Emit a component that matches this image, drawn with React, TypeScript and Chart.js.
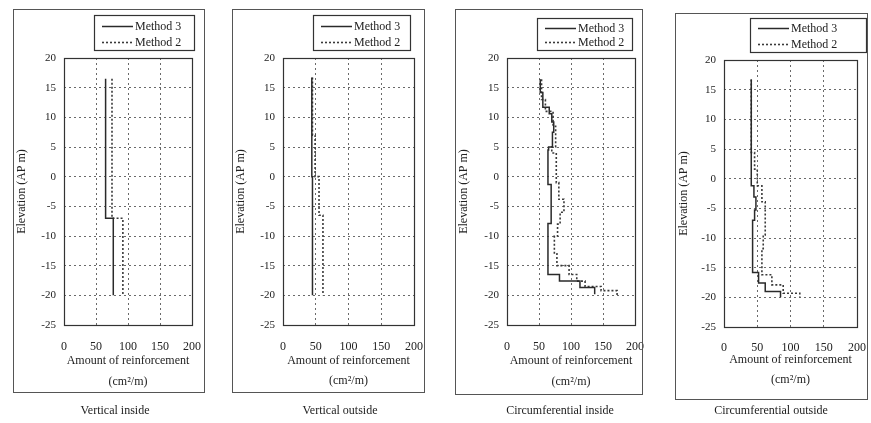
import React, { useEffect, useRef } from "react";
import { Chart, registerables } from "chart.js";

Chart.register(...registerables);

// ---------- data ----------
const X_TICKS = [0, 50, 100, 150, 200];
const Y_TICKS = [20, 15, 10, 5, 0, -5, -10, -15, -20, -25];
const SERIES_NAMES = ["Method 3", "Method 2"];
const CAPTIONS = ["Vertical inside", "Vertical outside", "Circumferential inside", "Circumferential outside"];
const Y_TITLE = "Elevation (AP m)";
const X_TITLE = ["Amount of reinforcement", "(cm\u00B2/m)"];

// Vertical inside: segment boundaries (elevation, AP m) and amount per segment
const viM3Elev = [16.5, -7, -20];
const viM3Val = [65, 77];
const viM2Elev = [16.5, -7, -20];
const viM2Val = [75, 92];

// Vertical outside
const voM3Elev = [16.7, 0, -20];
const voM3Val = [44, 45];
const voM2Elev = [16.7, 7, 0, -6.5, -20];
const voM2Val = [45, 49, 55, 61];

// Circumferential inside
const ciM3Elev = [16.4, 14.2, 11.7, 10.6, 9.2, 7.5, 5.0, 4.5, -1.3, -7.9, -16.5, -17.6, -18.7, -19.8];
const ciM3Val = [52, 56, 66, 70, 73, 71, 65, 64, 69, 64, 82, 114, 137];
const ciM2Elev = [16.4, 13, 11, 8.5, 5, 4, -1, -3.8, -6, -8, -10, -13, -15, -16.5, -17.6, -18.5, -19.2, -20];
const ciM2Val = [54, 60, 72, 76, 70, 77, 81, 89, 83, 79, 74, 78, 97, 109, 122, 147, 172];

// Circumferential outside
const coM3Elev = [16.7, -1.2, -3.1, -5.3, -7, -15.8, -17.6, -19, -20];
const coM3Val = [41, 45, 48, 46, 43, 52, 62, 85];
const coM2Elev = [16.7, 4.4, 1.6, -1.2, -3.9, -9.5, -11.8, -16.2, -17.9, -19.3, -20];
const coM2Val = [41, 46, 50, 57, 62, 59, 57, 72, 89, 114];

// ---------- layout (page pixels) ----------
const LAYOUTS = [
  { box: { x: 13, y: 9, w: 192, h: 384 }, plot: { l: 64, t: 58, r: 192, b: 325 }, legend: { x: 94, y: 15, w: 100, h: 35 }, capX: 115, tickY: 347, titleY: 361, unitY: 382 },
  { box: { x: 232, y: 9, w: 193, h: 384 }, plot: { l: 283, t: 58, r: 414, b: 325 }, legend: { x: 313, y: 15, w: 97, h: 35 }, capX: 340, tickY: 347, titleY: 361, unitY: 381 },
  { box: { x: 455, y: 9, w: 188, h: 386 }, plot: { l: 507, t: 58, r: 635, b: 325 }, legend: { x: 537, y: 18, w: 95, h: 32 }, capX: 560, tickY: 347, titleY: 361, unitY: 382 },
  { box: { x: 675, y: 13, w: 193, h: 387 }, plot: { l: 724, t: 60, r: 857, b: 327 }, legend: { x: 750, y: 18, w: 116, h: 34 }, capX: 771, tickY: 348, titleY: 360, unitY: 380 },
];
const EXTRA_RIGHT = 6;

const FONT = '"Liberation Serif", "Times New Roman", serif';
const TEXT = "#222";

function stepPoints(elev: number[], vals: number[]) {
  const pts: { x: number; y: number }[] = [];
  for (let i = 0; i < vals.length; i++) {
    pts.push({ x: vals[i], y: elev[i] });
    pts.push({ x: vals[i], y: elev[i + 1] });
  }
  return pts;
}

const framePlugin = {
  id: "plotFrame",
  beforeDatasetsDraw(chart: any) {
    const { ctx, chartArea: a } = chart;
    ctx.save();
    ctx.setLineDash([]);
    ctx.strokeStyle = "#333";
    ctx.lineWidth = 1.2;
    ctx.strokeRect(Math.round(a.left) + 0.5, Math.round(a.top) + 0.5, Math.round(a.right - a.left), Math.round(a.bottom - a.top));
    ctx.restore();
  },
};

const legendPlugin = {
  id: "boxLegend",
  afterDraw(chart: any, _args: any, opts: any) {
    const { ctx } = chart;
    const { x, y, w, h } = opts;
    ctx.save();
    ctx.fillStyle = "#fff";
    ctx.fillRect(x, y, w, h);
    ctx.setLineDash([]);
    ctx.strokeStyle = "#333";
    ctx.lineWidth = 1.2;
    ctx.strokeRect(x + 0.5, y + 0.5, w, h);
    chart.data.datasets.forEach((ds: any, i: number) => {
      const cy = Math.round(y + h * (i === 0 ? 0.3 : 0.76)) + 0.5;
      ctx.strokeStyle = ds.borderColor;
      ctx.lineWidth = ds.borderWidth;
      ctx.setLineDash(ds.borderDash || []);
      ctx.beginPath();
      ctx.moveTo(x + 8, cy);
      ctx.lineTo(x + 39, cy);
      ctx.stroke();
      ctx.setLineDash([]);
      ctx.fillStyle = TEXT;
      ctx.font = `12px ${FONT}`;
      ctx.textBaseline = "middle";
      ctx.textAlign = "left";
      ctx.fillText(ds.label, x + 41, cy);
    });
    ctx.restore();
  },
};

type Series = { elev: number[]; val: number[] };

function Panel({ idx, m3, m2 }: { idx: number; m3: Series; m2: Series }) {
  const ref = useRef<HTMLCanvasElement>(null);
  const L = LAYOUTS[idx];
  useEffect(() => {
    const { box, plot, legend, tickY, titleY, unitY } = L;
    const lineGap = unitY - titleY;
    const zeroPad = (s: any) => {
      s.paddingLeft = 0;
      s.paddingRight = 0;
      s.paddingTop = 0;
      s.paddingBottom = 0;
    };
    const chart = new Chart(ref.current as HTMLCanvasElement, {
      type: "scatter",
      data: {
        datasets: [
          {
            label: SERIES_NAMES[0],
            data: stepPoints(m3.elev, m3.val),
            showLine: true,
            borderColor: "#2a2a2a",
            borderWidth: 1.5,
            pointRadius: 0,
            fill: false,
          },
          {
            label: SERIES_NAMES[1],
            data: stepPoints(m2.elev, m2.val),
            showLine: true,
            borderColor: "#3a3a3a",
            borderWidth: 1.6,
            borderDash: [2, 2],
            pointRadius: 0,
            fill: false,
          },
        ],
      } as any,
      options: {
        responsive: false,
        animation: false,
        devicePixelRatio: 1,
        events: [],
        layout: {
          padding: { top: plot.t - box.y, right: 0, left: 0, bottom: 0 },
        },
        plugins: {
          legend: { display: false },
          tooltip: { enabled: false },
          boxLegend: { x: legend.x - box.x, y: legend.y - box.y, w: legend.w, h: legend.h },
        } as any,
        scales: {
          x: {
            type: "linear",
            position: "bottom",
            min: 0,
            max: 200,
            afterBuildTicks: (s: any) => {
              s.ticks = X_TICKS.map((v) => ({ value: v }));
            },
            afterFit: (s: any) => {
              s.height = box.y + box.h - plot.b;
              zeroPad(s);
            },
            grid: { color: "#6a6a6a", lineWidth: 1, drawTicks: false },
            border: { display: false, dash: [2, 3] },
            ticks: {
              padding: tickY - plot.b - 7,
              font: { family: FONT, size: 12 },
              color: TEXT,
              maxRotation: 0,
              autoSkip: false,
            },
            title: {
              display: true,
              text: X_TITLE,
              color: TEXT,
              font: { family: FONT, size: 12, lineHeight: lineGap / 12 },
              padding: { top: 0, bottom: box.y + box.h - unitY - lineGap / 2 },
            },
          },
          y: {
            type: "linear",
            position: "left",
            min: -25,
            max: 20,
            afterBuildTicks: (s: any) => {
              s.ticks = Y_TICKS.map((v) => ({ value: v }));
            },
            afterFit: (s: any) => {
              s.width = plot.l - box.x;
              zeroPad(s);
            },
            grid: { color: "#6a6a6a", lineWidth: 1, drawTicks: false },
            border: { display: false, dash: [2, 3] },
            ticks: {
              padding: 8,
              font: { family: FONT, size: 11 },
              color: TEXT,
              autoSkip: false,
            },
            title: {
              display: true,
              text: Y_TITLE,
              color: TEXT,
              font: { family: FONT, size: 12 },
              padding: { top: 2, bottom: 0 },
            },
          },
          yRight: {
            type: "linear",
            position: "right",
            display: true,
            min: -25,
            max: 20,
            grid: { display: false, drawTicks: false },
            border: { display: false },
            ticks: { display: false },
            afterFit: (s: any) => {
              s.width = box.x + box.w + EXTRA_RIGHT - plot.r;
              zeroPad(s);
            },
          },
        },
      } as any,
      plugins: [framePlugin, legendPlugin],
    });
    return () => chart.destroy();
  }, []);

  const { box, capX } = L;
  const cw = box.w + EXTRA_RIGHT;
  return (
    <>
      <canvas
        ref={ref}
        width={cw}
        height={box.h}
        style={{ position: "absolute", left: box.x, top: box.y, width: cw, height: box.h, display: "block" }}
      />
      <div
        style={{
          position: "absolute",
          left: box.x,
          top: box.y,
          width: box.w,
          height: box.h,
          border: "1px solid #555",
          boxSizing: "border-box",
          pointerEvents: "none",
        }}
      />
      <div
        style={{
          position: "absolute",
          left: capX - 100,
          top: 403,
          width: 200,
          height: 15,
          lineHeight: "15px",
          textAlign: "center",
          fontFamily: FONT,
          fontSize: 12,
          color: TEXT,
          whiteSpace: "nowrap",
        }}
      >
        {CAPTIONS[idx]}
      </div>
    </>
  );
}

export default function App() {
  return (
    <div style={{ position: "absolute", left: 0, top: 0, width: 871, height: 423, background: "#fff", overflow: "hidden" }}>
      <Panel idx={0} m3={{ elev: viM3Elev, val: viM3Val }} m2={{ elev: viM2Elev, val: viM2Val }} />
      <Panel idx={1} m3={{ elev: voM3Elev, val: voM3Val }} m2={{ elev: voM2Elev, val: voM2Val }} />
      <Panel idx={2} m3={{ elev: ciM3Elev, val: ciM3Val }} m2={{ elev: ciM2Elev, val: ciM2Val }} />
      <Panel idx={3} m3={{ elev: coM3Elev, val: coM3Val }} m2={{ elev: coM2Elev, val: coM2Val }} />
    </div>
  );
}
